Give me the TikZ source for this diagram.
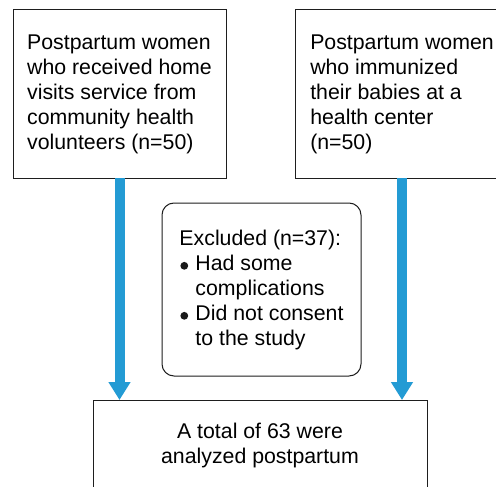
\documentclass[tikz,border=0pt]{standalone}
\usepackage{fontspec}
\setmainfont{Liberation Sans}
\usetikzlibrary{arrows.meta}
\definecolor{arrowblue}{RGB}{35,155,212}
\definecolor{edgegray}{RGB}{30,30,30}
\newcommand{\bulletmark}{\tikz[baseline=0pt]{\useasboundingbox (0pt,0pt) rectangle (16pt,8pt); \fill[black!90] (4.8pt,4.2pt) circle (3.9pt);}}
\begin{document}
\begin{tikzpicture}[x=1pt,y=-1pt,
  box/.style={draw=edgegray, line width=1pt, fill=white, inner sep=0pt, outer sep=0pt,
    font=\fontsize{21.3}{25}\selectfont},
  flowarrow/.style={draw=arrowblue, line width=10pt, -{Triangle[width=21pt,length=18pt,fill=arrowblue]}}]
\useasboundingbox[fill=white] (0,0) rectangle (496,487);
\node[box, align=left, minimum width=213pt, minimum height=168pt] (left) at (119.5,94)
  {Postpartum women\\who received home\\visits service from\\community health\\volunteers (n=50)};
\node[box, align=left, minimum width=214pt, minimum height=168pt] (right) at (402,94)
  {Postpartum women\\who immunized\\their babies at a\\health center\\(n=50)};
\node[box, align=left, rounded corners=12pt, minimum width=199pt, minimum height=173pt] (excl) at (261.5,289.5)
  {Excluded (n=37):\\
   \bulletmark Had some\\
   \hspace*{16pt}complications\\
   \bulletmark Did not consent\\
   \hspace*{16pt}to the study};
\node[box, align=center, minimum width=334pt, minimum height=90pt] (total) at (260,445)
  {A total of 63 were\\analyzed postpartum};
\draw[flowarrow] (left.south) -- (left.south |- total.north);
\draw[flowarrow] (right.south) -- (right.south |- total.north);
\end{tikzpicture}
\end{document}
